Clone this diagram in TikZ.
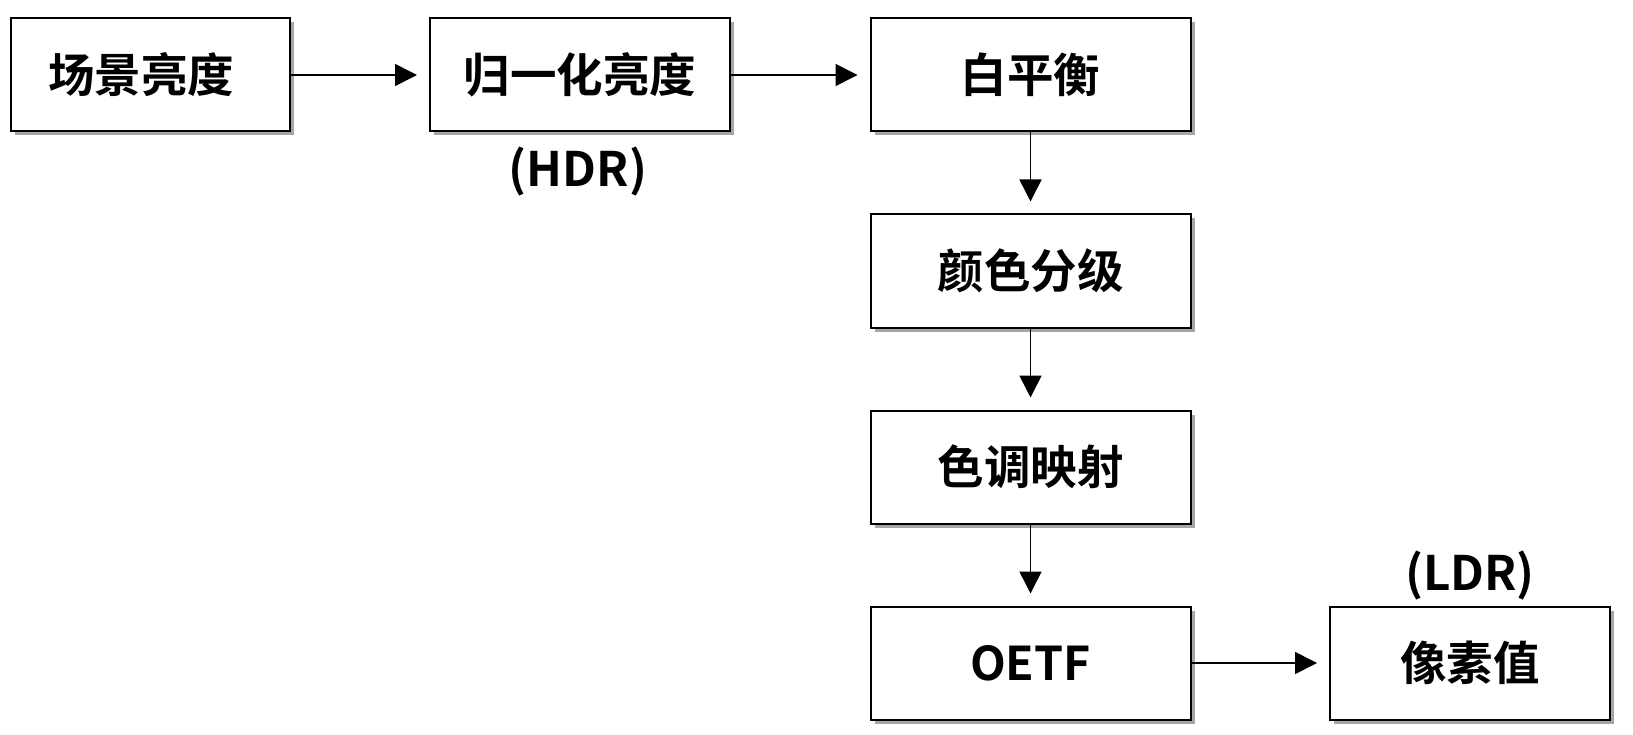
\documentclass[tikz,border=0pt]{standalone}
\usepackage{fontspec}
\setmainfont{Noto Sans CJK SC}[BoldFont={Noto Sans CJK SC Bold}]
\usetikzlibrary{arrows.meta,shadows}
\begin{document}
\begin{tikzpicture}[x=1pt,y=-1pt,
  box/.style={draw=black, line width=2pt, fill=white, minimum height=113pt, inner sep=0pt,
    font=\fontsize{46.5}{50}\selectfont\bfseries,
    drop shadow={shadow xshift=4pt, shadow yshift=-4pt, opacity=0.35, fill=black}},
  lbl/.style={font=\fontsize{47.5}{50}\selectfont\bfseries, inner sep=0pt},
  conn/.style={line width=1.6pt, -{Triangle[length=22pt,width=22pt]}, shorten >=12pt}]
\useasboundingbox (0,0) rectangle (1633,735);
\node[box, minimum width=279pt] (b1) at (150,75) {场景亮度\hspace*{18pt}};
\node[box, minimum width=300pt] (b2) at (580,75) {归一化亮度};
\node[box, minimum width=320pt] (b3) at (1030.5,75) {白平衡};
\node[box, minimum width=320pt] (b4) at (1030.5,271) {颜色分级};
\node[box, minimum width=320pt] (b5) at (1030.5,467) {色调映射};
\node[box, minimum width=320pt] (b6) at (1030.5,663) {OETF};
\node[box, minimum width=280pt] (b7) at (1470,663) {像素值};
\node[lbl] (hdr) at (578,172) {(HDR)};
\node[lbl] (ldr) at (1470,576) {(LDR)};
\draw[conn] (b1) -- (b2);
\draw[conn] (b2) -- (b3);
\draw[conn] (b3) -- (b4);
\draw[conn] (b4) -- (b5);
\draw[conn] (b5) -- (b6);
\draw[conn] (b6) -- (b7);
\end{tikzpicture}
\end{document}
